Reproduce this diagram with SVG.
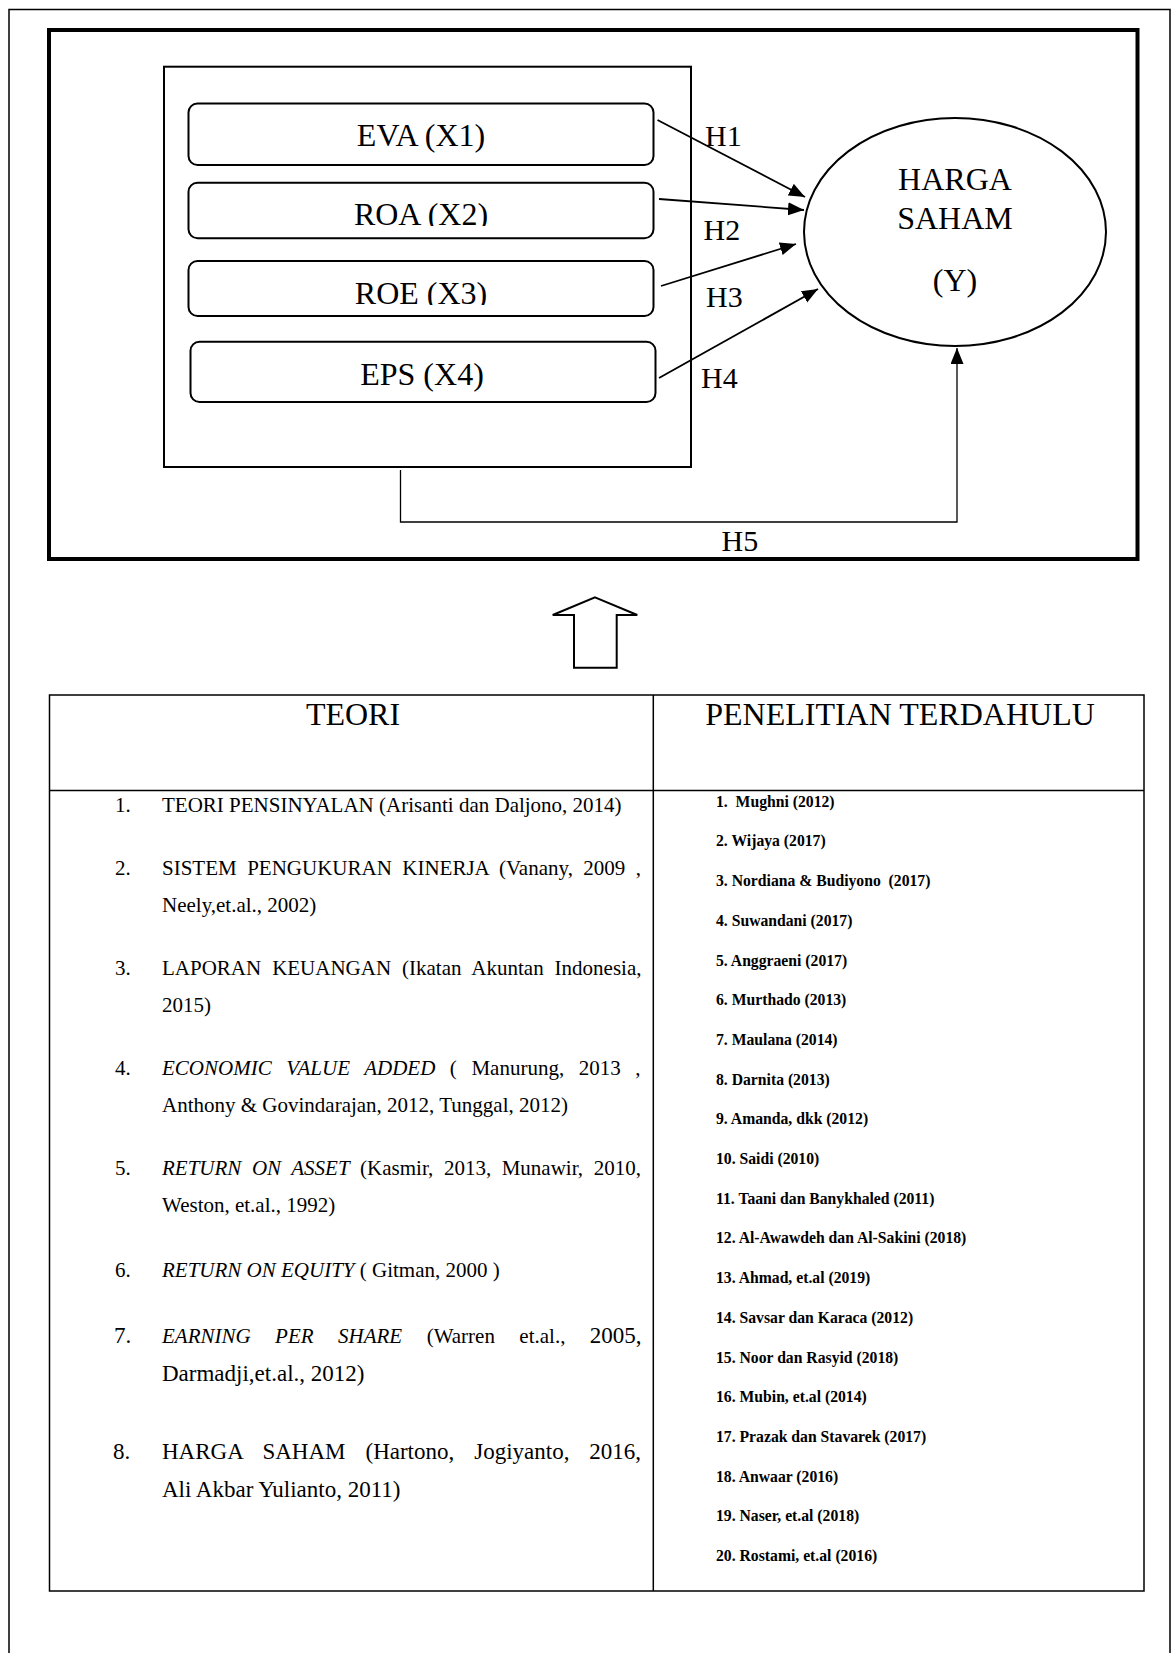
<svg xmlns="http://www.w3.org/2000/svg" width="1173" height="1653" viewBox="0 0 1173 1653">
<style>
  .serif { font-family: "Liberation Serif", "Times New Roman", serif; fill: #000; }
  .box { fill: #fff; stroke: #000; stroke-width: 2; }
  .big { font-size: 32px; }
  .lbl { font-size: 30px; }
  .item { font-size: 21px; }
  .item23 { font-size: 23px; }
  .ref { font-size: 15.7px; font-weight: bold; }
  .conn { fill: none; stroke: #000; stroke-width: 1.8; }
  .thin { fill: none; stroke: #000; stroke-width: 1.3; }
  .it { font-style: italic; }
</style>
<defs>
  <marker id="ah" markerUnits="userSpaceOnUse" markerWidth="17" markerHeight="14" refX="16" refY="6.5" orient="auto">
    <path d="M0,0 L16,6.5 L0,13 z" fill="#000"/>
  </marker>
  <clipPath id="clipROA"><rect x="188" y="183" width="466" height="43"/></clipPath>
  <clipPath id="clipROE"><rect x="188" y="261" width="466" height="44"/></clipPath>
</defs>
<rect x="0" y="0" width="1173" height="1653" fill="#fff"/>

<!-- page border (open at bottom) -->
<g id="page-border">
  <path d="M9,1653 V9.5 H1170 V1653" fill="none" stroke="#000" stroke-width="1.5"/>
</g>

<!-- thick frame of model -->
<g id="model-frame">
  <rect x="49" y="30" width="1088.5" height="529" fill="none" stroke="#000" stroke-width="4"/>
</g>

<!-- independent variables container -->
<g id="variables-box">
  <rect x="164" y="66.7" width="527" height="400.3" fill="none" stroke="#000" stroke-width="2"/>
</g>

<g id="eva">
  <rect class="box" x="188.5" y="103.5" width="465" height="61.5" rx="9"/>
  <text class="serif big" x="421" y="146" text-anchor="middle">EVA (X1)</text>
</g>
<g id="roa">
  <rect class="box" x="188.5" y="182.7" width="465" height="55.6" rx="9"/>
  <text class="serif big" x="421" y="225" text-anchor="middle" clip-path="url(#clipROA)">ROA (X2)</text>
</g>
<g id="roe">
  <rect class="box" x="188.5" y="261" width="465" height="55" rx="9"/>
  <text class="serif big" x="421" y="304" text-anchor="middle" clip-path="url(#clipROE)">ROE (X3)</text>
</g>
<g id="eps">
  <rect class="box" x="190.5" y="341.7" width="465" height="60.3" rx="9"/>
  <text class="serif big" x="422" y="385" text-anchor="middle">EPS (X4)</text>
</g>

<g id="harga-saham">
  <ellipse cx="955" cy="232" rx="151" ry="114" fill="#fff" stroke="#000" stroke-width="2"/>
  <text class="serif big" x="955" y="190" text-anchor="middle">HARGA</text>
  <text class="serif big" x="955" y="229" text-anchor="middle">SAHAM</text>
  <text class="serif big" x="955" y="291" text-anchor="middle">(Y)</text>
</g>

<g id="connectors">
  <line class="conn" x1="657.5" y1="120" x2="805" y2="197" marker-end="url(#ah)"/>
  <line class="conn" x1="659" y1="199" x2="804" y2="210" marker-end="url(#ah)"/>
  <line class="conn" x1="661" y1="286" x2="796" y2="244" marker-end="url(#ah)"/>
  <line class="conn" x1="659" y1="378" x2="818" y2="289" marker-end="url(#ah)"/>
  <polyline class="thin" points="400.5,470 400.5,522 957,522 957,348" marker-end="url(#ah)"/>
</g>

<g id="hypothesis-labels">
  <text class="serif lbl" x="705" y="145.5">H1</text>
  <text class="serif lbl" x="703.5" y="240">H2</text>
  <text class="serif lbl" x="706" y="306.5">H3</text>
  <text class="serif lbl" x="701" y="388">H4</text>
  <text class="serif lbl" x="721.5" y="551">H5</text>
</g>

<g id="up-arrow">
  <polygon points="595,597.3 637.3,615 616.7,615 616.7,667.7 574,667.7 574,615 552.7,615" fill="#fff" stroke="#000" stroke-width="2" stroke-linejoin="miter"/>
</g>

<g id="table">
  <rect x="49.5" y="695" width="1094.5" height="896" fill="none" stroke="#000" stroke-width="1.5"/>
  <line x1="653.3" y1="695" x2="653.3" y2="1591" stroke="#000" stroke-width="1.5"/>
  <line x1="49.5" y1="790.5" x2="1144" y2="790.5" stroke="#000" stroke-width="1.5"/>
  <text class="serif big" x="353" y="725" text-anchor="middle">TEORI</text>
  <text class="serif big" x="900" y="725" text-anchor="middle">PENELITIAN TERDAHULU</text>
</g>

<g id="teori-list" class="serif">
  <text class="item" x="115" y="811.7">1.</text>
  <text class="item" x="162" y="811.7">TEORI PENSINYALAN (Arisanti dan Daljono, 2014)</text>

  <text class="item" x="115" y="875">2.</text>
  <text class="item" x="162" y="875" word-spacing="5.2">SISTEM PENGUKURAN KINERJA (Vanany, 2009 ,</text>
  <text class="item" x="162" y="911.7">Neely,et.al., 2002)</text>

  <text class="item" x="115" y="975">3.</text>
  <text class="item" x="162" y="975" word-spacing="5.7">LAPORAN KEUANGAN (Ikatan Akuntan Indonesia,</text>
  <text class="item" x="162" y="1011.7">2015)</text>

  <text class="item" x="115" y="1075">4.</text>
  <text class="item" x="162" y="1075" word-spacing="9.3"><tspan class="it">ECONOMIC VALUE ADDED</tspan> ( Manurung, 2013 ,</text>
  <text class="item" x="162" y="1111.7">Anthony &amp; Govindarajan, 2012, Tunggal, 2012)</text>

  <text class="item" x="115" y="1175">5.</text>
  <text class="item" x="162" y="1175" word-spacing="5.3"><tspan class="it">RETURN ON ASSET</tspan> (Kasmir, 2013, Munawir, 2010,</text>
  <text class="item" x="162" y="1211.7">Weston, et.al., 1992)</text>

  <text class="item" x="115" y="1276.7">6.</text>
  <text class="item" x="162" y="1276.7"><tspan class="it">RETURN ON EQUITY</tspan> ( Gitman, 2000 )</text>

  <text class="item23" x="114" y="1342.5">7.</text>
  <text class="item" x="162" y="1342.5" word-spacing="19.2"><tspan class="it">EARNING PER SHARE</tspan> (Warren et.al., <tspan class="item23">2005,</tspan></text>
  <text class="item23" x="162" y="1381">Darmadji,et.al., 2012)</text>

  <text class="item23" x="113" y="1459">8.</text>
  <text class="item23" x="162" y="1459" word-spacing="14.2">HARGA SAHAM (Hartono, Jogiyanto, 2016,</text>
  <text class="item23" x="162" y="1497">Ali Akbar Yulianto, 2011)</text>
</g>

<g id="penelitian-list" class="serif ref">
  <text class="ref" x="716" y="806.7">1.&#160; Mughni (2012)</text>
  <text class="ref" x="716" y="846.4">2. Wijaya (2017)</text>
  <text class="ref" x="716" y="886.1">3. Nordiana &amp; Budiyono &#160;(2017)</text>
  <text class="ref" x="716" y="925.8">4. Suwandani (2017)</text>
  <text class="ref" x="716" y="965.5">5. Anggraeni (2017)</text>
  <text class="ref" x="716" y="1005.2">6. Murthado (2013)</text>
  <text class="ref" x="716" y="1044.9">7. Maulana (2014)</text>
  <text class="ref" x="716" y="1084.6">8. Darnita (2013)</text>
  <text class="ref" x="716" y="1124.3">9. Amanda, dkk (2012)</text>
  <text class="ref" x="716" y="1164">10. Saidi (2010)</text>
  <text class="ref" x="716" y="1203.7">11. Taani dan Banykhaled (2011)</text>
  <text class="ref" x="716" y="1243.4">12. Al-Awawdeh dan Al-Sakini (2018)</text>
  <text class="ref" x="716" y="1283.1">13. Ahmad, et.al (2019)</text>
  <text class="ref" x="716" y="1322.8">14. Savsar dan Karaca (2012)</text>
  <text class="ref" x="716" y="1362.5">15. Noor dan Rasyid (2018)</text>
  <text class="ref" x="716" y="1402.2">16. Mubin, et.al (2014)</text>
  <text class="ref" x="716" y="1441.9">17. Prazak dan Stavarek (2017)</text>
  <text class="ref" x="716" y="1481.6">18. Anwaar (2016)</text>
  <text class="ref" x="716" y="1521.3">19. Naser, et.al (2018)</text>
  <text class="ref" x="716" y="1561">20. Rostami, et.al (2016)</text>
</g>
</svg>
